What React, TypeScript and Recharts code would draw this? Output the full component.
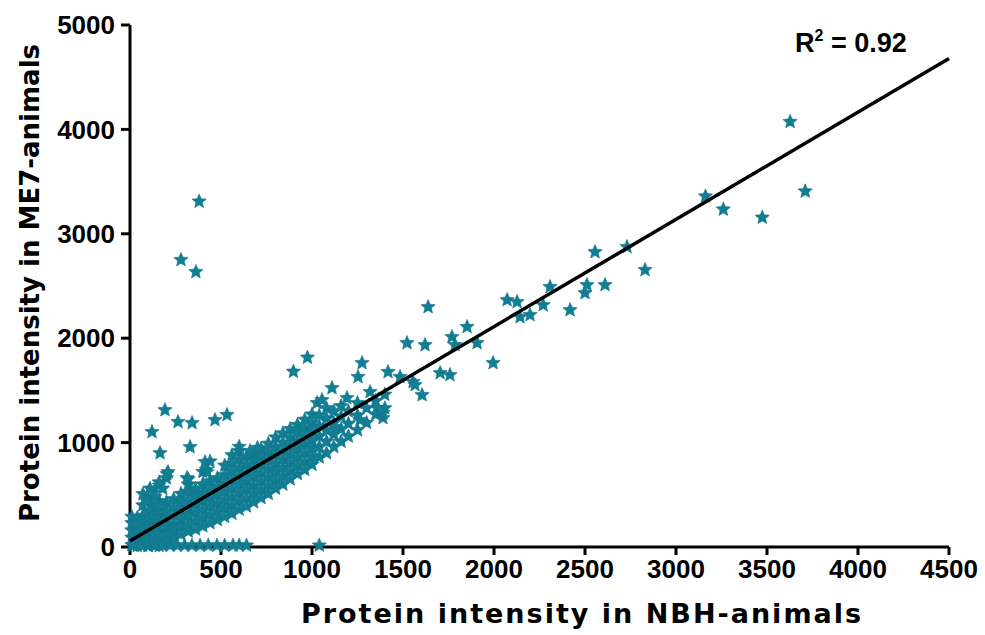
import React from 'react';
import { ScatterChart, Scatter, XAxis, YAxis } from 'recharts';

const TEAL = '#127e93';

// x ticks / y ticks
const xTicks = [0, 500, 1000, 1500, 2000, 2500, 3000, 3500, 4000, 4500];
const yTicks = [0, 1000, 2000, 3000, 4000, 5000];

// dense band along the fit: one x per column, several y values each
const bandX = [
  10, 40, 70, 100, 130, 160, 200, 240, 280, 320, 360, 400, 440, 480, 520, 560, 600, 640,
  680, 720, 760, 800, 840, 880, 920, 960, 1000, 1040, 1080, 1120, 1160, 1200, 1250, 1300,
  1350, 1400,
];
const bandY = [
  [20, 90, 160, 230, 290],
  [10, 80, 150, 220, 280],
  [15, 90, 170, 240, 300, 400],
  [10, 60, 130, 200, 270, 340, 460],
  [20, 90, 160, 230, 300, 380, 520],
  [10, 70, 140, 210, 290, 360, 440, 590],
  [60, 130, 200, 280, 350, 430, 660],
  [80, 150, 220, 300, 380, 460],
  [120, 200, 270, 350, 430, 510],
  [150, 220, 300, 370, 450, 530, 600, 650],
  [170, 250, 330, 410, 490, 560],
  [200, 280, 360, 440, 520, 600, 720],
  [230, 310, 390, 470, 550, 630, 820],
  [260, 340, 420, 500, 580, 660],
  [290, 370, 450, 530, 610, 690, 780],
  [320, 400, 480, 560, 640, 720, 800, 880],
  [360, 440, 520, 600, 680, 760, 840, 920],
  [390, 470, 550, 630, 710, 790, 870],
  [430, 510, 590, 670, 750, 830, 900],
  [470, 550, 630, 710, 790, 870, 940],
  [510, 590, 670, 750, 830, 910, 990],
  [560, 640, 720, 800, 880, 960, 1050],
  [600, 680, 760, 840, 920, 1000, 1090],
  [650, 730, 810, 890, 970, 1050, 1130],
  [700, 780, 860, 940, 1020, 1100, 1170],
  [740, 820, 900, 980, 1060, 1140, 1220],
  [790, 870, 950, 1030, 1110, 1190, 1270],
  [860, 960, 1060, 1160, 1260],
  [900, 1010, 1120, 1230, 1330],
  [960, 1080, 1190, 1300],
  [1010, 1130, 1250, 1350],
  [1060, 1180, 1300],
  [1120, 1260, 1380],
  [1190, 1330],
  [1270, 1400],
  [1330, 1460],
];

// scattered points off the band
const outlierPoints = [
  [380, 3310], [280, 2750], [362, 2635], [975, 1815], [898, 1680],
  [192, 1312], [264, 1198], [341, 1188], [467, 1217], [533, 1265], [121, 1102],
  [165, 900], [330, 958], [412, 814], [420, 740], [313, 661], [209, 718], [423, 718],
  [71, 507], [93, 440], [110, 560], [137, 480], [160, 620], [180, 560], [203, 700],
  [150, 400], [660, 920], [700, 950], [600, 960],
  [1028, 1380], [1055, 1408], [1110, 1523], [1126, 1150], [1192, 1427], [1253, 1629],
  [1275, 1763], [1264, 1217], [1319, 1485], [1357, 1332], [1390, 1236], [1390, 1284],
  [1418, 1677], [1484, 1629], [1522, 1954], [1555, 1581], [1566, 1552], [1605, 1456],
  [1621, 1935], [1638, 2299], [1704, 1667], [1758, 1648], [1769, 2012], [1786, 1935],
  [1852, 2108], [1907, 1954], [1995, 1763], [2072, 2366], [2127, 2347], [2143, 2203],
  [2198, 2223], [2270, 2318], [2308, 2491], [2418, 2270], [2500, 2433], [2511, 2510],
  [2610, 2510], [2555, 2826], [2731, 2874], [2830, 2654], [3162, 3359], [3260, 3234],
  [3474, 3156], [3627, 4073], [3710, 3407],
];

// points lying on the x axis (zero in ME7)
const axisX = [20, 60, 100, 140, 180, 220, 260, 300, 340, 385, 430, 478, 520, 566, 600, 640, 1040];
const axisY = 15;

// linear fit end points
const fitLine = [
  { x: 0, y: 57 },
  { x: 4500, y: 4679 },
];

const bandData = bandX.flatMap((x, i) => bandY[i].map((y) => ({ x, y })));
const outlierData = outlierPoints.map(([x, y]) => ({ x, y }));
const axisData = axisX.map((x) => ({ x, y: axisY }));
const allData = [...bandData, ...outlierData, ...axisData];

const StarMarker = (props: any) => {
  const { cx, cy } = props;
  if (cx == null || cy == null) return <g />;
  const pts: string[] = [];
  for (let i = 0; i < 10; i++) {
    const r = i % 2 === 0 ? 7.5 : 3.4;
    const a = -Math.PI / 2 + (i * Math.PI) / 5;
    pts.push(`${cx + r * Math.cos(a)},${cy + r * Math.sin(a)}`);
  }
  return <polygon points={pts.join(' ')} fill={TEAL} stroke="#0f7389" strokeWidth={0.6} />;
};

const tickStyle = {
  fill: '#000',
  fontSize: 26,
  fontWeight: 'bold',
  fontFamily: '"Liberation Sans", Arial, sans-serif',
};

const titleStyle: React.CSSProperties = {
  position: 'absolute',
  whiteSpace: 'nowrap',
  fontFamily: '"DejaVu Sans", Verdana, sans-serif',
  fontWeight: 'bold',
  color: '#000',
  lineHeight: 1,
};

export default function App() {
  return (
    <div style={{ position: 'absolute', left: 0, top: 0, width: 985, height: 635, background: '#fff' }}>
      <ScatterChart width={985} height={635} margin={{ top: 25, right: 36, bottom: 0, left: 0 }}>
        <XAxis
          type="number"
          dataKey="x"
          domain={[0, 4500]}
          ticks={xTicks}
          height={88}
          tick={tickStyle}
          tickSize={8}
          tickMargin={5}
          axisLine={{ stroke: '#000', strokeWidth: 3 }}
          tickLine={{ stroke: '#000', strokeWidth: 3 }}
        />
        <YAxis
          type="number"
          dataKey="y"
          domain={[0, 5000]}
          ticks={yTicks}
          width={130}
          tick={tickStyle}
          tickSize={9}
          tickMargin={6}
          axisLine={{ stroke: '#000', strokeWidth: 3 }}
          tickLine={{ stroke: '#000', strokeWidth: 3 }}
        />
        <Scatter data={allData} shape={StarMarker} isAnimationActive={false} />
        <Scatter
          data={fitLine}
          line={{ stroke: '#000', strokeWidth: 3.5 }}
          shape={() => <g />}
          isAnimationActive={false}
        />
      </ScatterChart>
      <div
        style={{
          ...titleStyle,
          fontSize: 26,
          left: 30,
          top: 283,
          transform: 'translate(-50%, -50%) rotate(-90deg)',
        }}
      >
        Protein intensity in ME7-animals
      </div>
      <div
        style={{
          ...titleStyle,
          fontSize: 27,
          letterSpacing: 2,
          left: 582,
          top: 613,
          transform: 'translate(-50%, -50%)',
        }}
      >
        Protein intensity in NBH-animals
      </div>
      <div
        style={{
          position: 'absolute',
          left: 795,
          top: 30,
          fontSize: 27,
          lineHeight: 1,
          fontWeight: 'bold',
          fontFamily: '"Liberation Sans", Arial, sans-serif',
          whiteSpace: 'nowrap',
        }}
      >
        R<sup style={{ fontSize: 16, verticalAlign: 'top', position: 'relative', top: -2 }}>2</sup> = 0.92
      </div>
    </div>
  );
}
